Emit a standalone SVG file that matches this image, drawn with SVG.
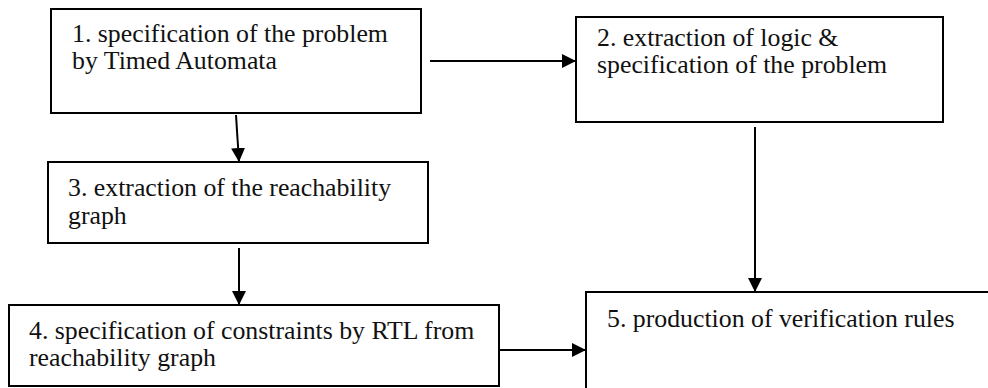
<svg xmlns="http://www.w3.org/2000/svg" width="988" height="388" viewBox="0 0 988 388">
<style>
.box{fill:#fff;stroke:#000;stroke-width:2}
.t{font-family:"Liberation Serif","Times New Roman",serif;font-size:25.8px;fill:#111}
.c{stroke:#000;stroke-width:2;fill:none;marker-end:url(#ah)}
</style>
<defs>
<marker id="ah" viewBox="0 0 14 14" refX="14" refY="7" markerWidth="14" markerHeight="14" markerUnits="userSpaceOnUse" orient="auto">
<path d="M0,0 L14,7 L0,14 Z" fill="#000"/>
</marker>
</defs>
<rect width="988" height="388" fill="#fff"/>
<g id="n1">
<rect class="box" x="51" y="9" width="370" height="104"/>
<text class="t" x="72" y="42">1. specification of the problem</text>
<text class="t" x="72" y="69">by Timed Automata</text>
</g>
<g id="n2">
<rect class="box" x="576" y="17" width="367" height="105"/>
<text class="t" x="597" y="46">2. extraction of logic &amp;</text>
<text class="t" x="597" y="73">specification of the problem</text>
</g>
<g id="n3">
<rect class="box" x="48" y="162" width="380" height="81"/>
<text class="t" x="68" y="196">3. extraction of the reachability</text>
<text class="t" x="68" y="224">graph</text>
</g>
<g id="n4">
<rect class="box" x="9" y="305" width="490" height="81"/>
<text class="t" x="29" y="339">4. specification of constraints by RTL from</text>
<text class="t" x="29" y="366">reachability graph</text>
</g>
<g id="n5">
<rect class="box" x="586" y="292" width="420" height="110"/>
<text class="t" x="607" y="327">5. production of verification rules</text>
</g>
<g id="connectors">
<path class="c" d="M430,61 L576,61"/>
<path class="c" d="M236,115 L239,162"/>
<path class="c" d="M239,248 L239,305"/>
<path class="c" d="M755,127 L755,292"/>
<path class="c" d="M499,350 L586,350"/>
</g>
</svg>
